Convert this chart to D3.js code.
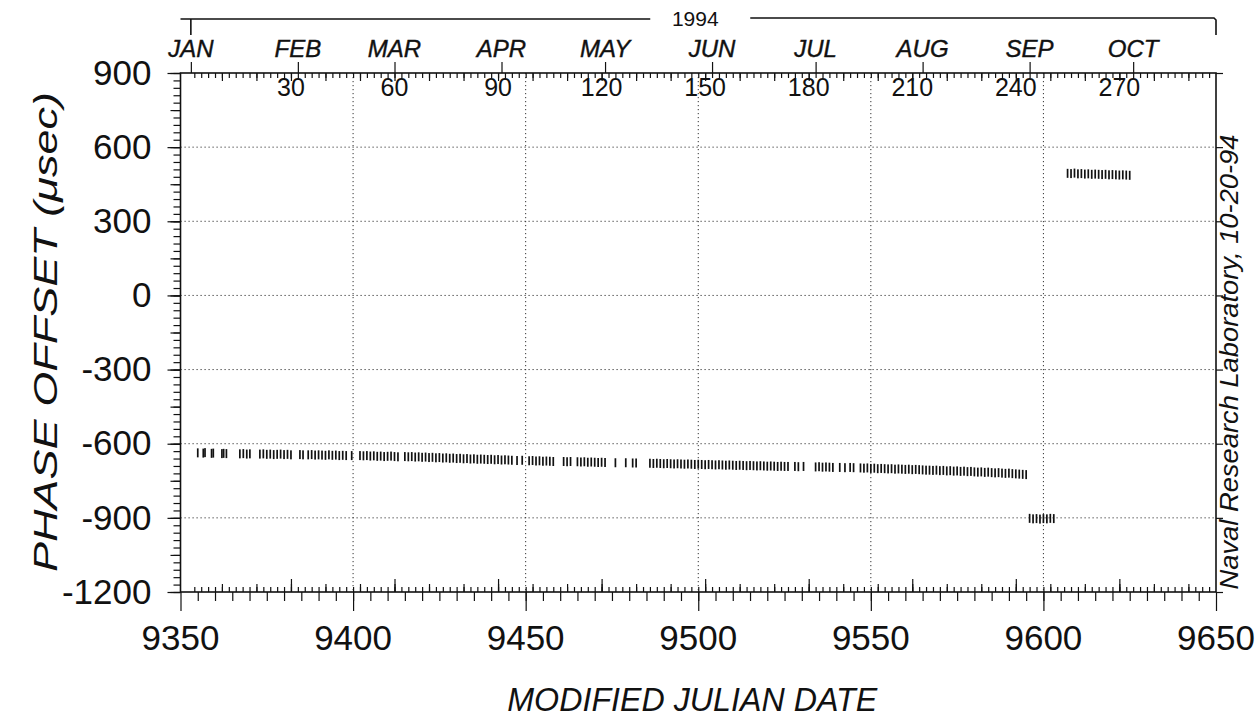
<!DOCTYPE html>
<html>
<head>
<meta charset="utf-8">
<script src="https://cdn.jsdelivr.net/npm/d3@7/dist/d3.min.js"></script>
<style>
  body { margin: 0; background: #fff; }
  svg { display: block; }
  text { font-family: "Liberation Sans", Arial, sans-serif; fill: #111; }
</style>
</head>
<body>
<svg id="chart" width="1260" height="719"></svg>
<script>
// ---- data ----
// main track, MJD and phase offset (usec)
const mainDays = [
  9355, 9356.6, 9357.1, 9359, 9359.5, 9362, 9362.5, 9363.3,
  9367.2, 9368.2, 9369.2, 9370.1,
  9373, 9374, 9375, 9376, 9377, 9378, 9379, 9380, 9381, 9382,
  9384.6, 9385.5,
  9387, 9388, 9389, 9390, 9391, 9392, 9393, 9394, 9395, 9396, 9397, 9398,
  9399.6,
  9402, 9403, 9404, 9405, 9406, 9407, 9408, 9409, 9410, 9411, 9412, 9413,
  9415, 9416, 9417, 9418, 9419, 9420, 9421, 9422, 9423, 9424, 9425, 9426, 9427, 9428, 9429, 9430,
  9431, 9432, 9433, 9434, 9435, 9436, 9437, 9438, 9439, 9440, 9441, 9442, 9443, 9444, 9445,
  9446, 9447.5, 9449,
  9451, 9452, 9453, 9454, 9455, 9456, 9457, 9458,
  9461, 9462, 9463,
  9465, 9466, 9467, 9468, 9469, 9470, 9471, 9472, 9473,
  9476, 9479, 9481, 9482,
  9486, 9487, 9488, 9489, 9490, 9491, 9492, 9493, 9494, 9495, 9496, 9497, 9498, 9499, 9500, 9501,
  9502, 9503, 9504, 9505, 9506, 9507, 9508, 9509, 9510, 9511, 9512, 9513, 9514, 9515, 9516, 9517,
  9518, 9519, 9520, 9521, 9522, 9523, 9524, 9525, 9526,
  9528, 9529, 9530.5,
  9534, 9535, 9536, 9537, 9538, 9539,
  9541, 9542.5, 9544, 9545,
  9547, 9548, 9549, 9550, 9551, 9552, 9553, 9554, 9555, 9556, 9557, 9558, 9559, 9560, 9561, 9562,
  9563, 9564, 9565, 9566,
  9567, 9568, 9569, 9570, 9571, 9572, 9573, 9574, 9575, 9576, 9577, 9578, 9579, 9580, 9581, 9582,
  9583, 9584, 9585, 9586, 9587, 9588, 9589, 9590, 9591, 9592, 9593, 9594, 9595
];
const mainOffsets = [
  -637, -638, -636, -639, -638, -640, -639, -640,
  -641, -640, -642, -641,
  -642, -641, -643, -642, -644, -643, -642, -644, -643, -645,
  -644, -645,
  -645, -644, -646, -645, -646, -647, -645, -647, -646, -648, -647, -648,
  -648,
  -648, -649, -648, -650, -649, -651, -650, -652, -651, -650, -652, -653,
  -652, -653, -652, -654, -653, -655, -654, -656, -655, -657, -656, -658, -657, -659, -658, -660,
  -659, -661, -660, -662, -661, -663, -662, -663, -664, -663, -665, -664, -666, -665, -666,
  -667, -668, -667,
  -669, -668, -670, -669, -671, -670, -671, -672,
  -672, -673, -672,
  -673, -674, -673, -675, -674, -675, -676, -675, -676,
  -677, -677, -678, -678,
  -679, -680, -679, -680, -681, -680, -681, -682, -681, -682, -683, -682, -683, -684, -683, -684,
  -685, -684, -685, -686, -685, -686, -687, -686, -687, -688, -687, -688, -689, -688, -689, -690,
  -689, -690, -691, -690, -691, -692, -691, -692, -692,
  -692, -693, -692,
  -694, -693, -695, -694, -695, -696,
  -696, -697, -696, -697,
  -698, -699, -698, -700, -699, -701, -700, -701, -702, -701, -703, -702, -703, -704, -703, -705,
  -704, -705, -706, -707,
  -707, -708, -707, -709, -708, -710, -709, -711, -710, -712, -711, -713, -712, -714, -715, -714,
  -716, -715, -717, -718, -717, -719, -720, -719, -721, -722, -723, -724, -725
];
// short excursion near -900
const dropDays = [9596, 9597, 9598, 9599, 9600, 9601, 9602, 9603];
const dropOffsets = [-902, -904, -903, -905, -903, -904, -902, -903];
// after the step
const jumpDays = [9607, 9608, 9609, 9610, 9611, 9612, 9613, 9614, 9615, 9616, 9617, 9618, 9619, 9620,
  9621, 9622, 9623, 9624, 9625];
const jumpOffsets = [494, 493, 495, 492, 493, 491, 492, 490, 491, 490, 489, 490, 488, 489, 488, 487,
  488, 487, 486];

// axis labels
const mjdTicks = [9350, 9400, 9450, 9500, 9550, 9600, 9650];
const offsetTicks = [900, 600, 300, 0, -300, -600, -900, -1200];
const dayOfYearTicks = [30, 60, 90, 120, 150, 180, 210, 240, 270];
const monthNames = ['JAN', 'FEB', 'MAR', 'APR', 'MAY', 'JUN', 'JUL', 'AUG', 'SEP', 'OCT'];
const monthFirstDay = [1, 32, 60, 91, 121, 152, 182, 213, 244, 274];
const yearLabel = '1994';
const mjdOfDayZero = 9352; // day-of-year 1 of 1994 = MJD 49353

// ---- layout ----
const plotL = 180.5, plotR = 1216, plotT = 73, plotB = 592;

const svg = d3.select('#chart');

const x = d3.scaleLinear().domain([9350, 9650]).range([plotL, plotR]);
const y = d3.scaleLinear().domain([-1200, 900]).range([plotB, plotT]);
const dayScale = d3.scaleLinear().domain([9350 - mjdOfDayZero, 9650 - mjdOfDayZero]).range([plotL, plotR]);

// grid (dotted)
const grid = svg.append('g').attr('stroke', '#333').attr('stroke-width', 1)
  .attr('stroke-dasharray', '1.2,2.8');
grid.selectAll('line.v')
  .data(mjdTicks.slice(1, -1))
  .enter().append('line')
  .attr('x1', d => x(d)).attr('x2', d => x(d))
  .attr('y1', plotT).attr('y2', plotB);
grid.selectAll('line.h')
  .data(offsetTicks.slice(1, -1))
  .enter().append('line')
  .attr('x1', plotL).attr('x2', plotR)
  .attr('y1', d => y(d)).attr('y2', d => y(d));

// helper to draw a tick-only axis
function ticksOnly(axis, tx, ty) {
  const g = svg.append('g').attr('transform', `translate(${tx},${ty})`).call(axis.tickFormat(''));
  g.select('.domain').remove();
  g.selectAll('line').attr('stroke', '#111').attr('stroke-width', 1.2);
  return g;
}

// bottom: MJD ticks hanging down
ticksOnly(d3.axisBottom(x).tickValues(d3.range(9355, 9650, 5)).tickSize(9), 0, plotB);
ticksOnly(d3.axisBottom(x).tickValues(mjdTicks).tickSize(19), 0, plotB);
// bottom: day-of-year ticks pointing up
ticksOnly(d3.axisTop(dayScale).tickValues(d3.range(2, 298, 2)).tickSize(5), 0, plotB);
ticksOnly(d3.axisTop(dayScale).tickValues(d3.range(10, 298, 10)).tickSize(8), 0, plotB);
ticksOnly(d3.axisTop(dayScale).tickValues(dayOfYearTicks).tickSize(13), 0, plotB);

// top: day-of-year ticks pointing down, month ticks pointing up
ticksOnly(d3.axisBottom(dayScale).tickValues(d3.range(2, 298, 2)).tickSize(5), 0, plotT);
ticksOnly(d3.axisBottom(dayScale).tickValues(d3.range(10, 298, 10)).tickSize(8), 0, plotT);
ticksOnly(d3.axisTop(dayScale).tickValues(monthFirstDay).tickSize(11), 0, plotT);

// left: offset ticks outward
ticksOnly(d3.axisLeft(y).tickValues(d3.range(-1200, 901, 30)).tickSize(7), plotL, 0);
ticksOnly(d3.axisLeft(y).tickValues(d3.range(-1200, 901, 150)).tickSize(10), plotL, 0);
const yAxis = svg.append('g').attr('transform', `translate(${plotL},0)`)
  .call(d3.axisLeft(y).tickValues(offsetTicks).tickSize(13).tickPadding(16)
    .tickFormat(d => String(d)));
yAxis.select('.domain').remove();
yAxis.selectAll('line').attr('stroke', '#111').attr('stroke-width', 1.2);
yAxis.selectAll('text').attr('font-size', 35).attr('fill', '#111')
  .style('font-family', '"Liberation Sans", Arial, sans-serif');
// right: major ticks outward
ticksOnly(d3.axisRight(y).tickValues(offsetTicks).tickSize(7), plotR, 0);

// frame
svg.append('rect')
  .attr('x', plotL).attr('y', plotT)
  .attr('width', plotR - plotL).attr('height', plotB - plotT)
  .attr('fill', 'none').attr('stroke', '#111').attr('stroke-width', 1.6);

// bottom tick labels
svg.append('g').selectAll('text')
  .data(mjdTicks)
  .enter().append('text')
  .attr('x', d => x(d)).attr('y', 650)
  .attr('text-anchor', 'middle').attr('font-size', 35)
  .text(d => d);

// top day-of-year labels
svg.append('g').selectAll('text')
  .data(dayOfYearTicks)
  .enter().append('text')
  .attr('x', d => dayScale(d)).attr('y', 96)
  .attr('text-anchor', 'middle').attr('font-size', 25)
  .text(d => d);

// month labels
svg.append('g').selectAll('text')
  .data(monthNames)
  .enter().append('text')
  .attr('x', (d, i) => dayScale(monthFirstDay[i])).attr('y', 57)
  .attr('text-anchor', 'middle').attr('font-size', 24).attr('font-style', 'italic')
  .attr('stroke', '#111').attr('stroke-width', 0.4)
  .text(d => d);

// year bracket
const mid = (plotL + plotR) / 2;
svg.append('text')
  .attr('x', mid - 3).attr('y', 26)
  .attr('text-anchor', 'middle').attr('font-size', 21)
  .text(yearLabel);
const bracket = svg.append('g').attr('stroke', '#111').attr('fill', 'none').attr('stroke-width', 1.6);
bracket.append('path')
  .attr('d', `M${plotL},19 H${mid - 48} M${dayScale(monthFirstDay[0])},19 V35`);
bracket.append('path')
  .attr('d', `M${mid + 52},18 H${plotR - 2} L${plotR},20 V35`);

// data marks: short vertical dashes
const markW = 1.7, markH = 9;
function drawMarks(days, offsets) {
  svg.append('g').selectAll('rect')
    .data(days.map((d, i) => ({ d, v: offsets[i] })))
    .enter().append('rect')
    .attr('x', p => x(p.d) - markW / 2)
    .attr('y', p => y(p.v) - markH / 2)
    .attr('width', markW).attr('height', markH)
    .attr('fill', '#111');
}
drawMarks(mainDays, mainOffsets);
drawMarks(dropDays, dropOffsets);
drawMarks(jumpDays, jumpOffsets);

// axis titles
svg.append('text')
  .attr('x', mid - 6).attr('y', 711)
  .attr('text-anchor', 'middle').attr('font-size', 34).attr('font-style', 'italic')
  .attr('textLength', 370).attr('lengthAdjust', 'spacingAndGlyphs')
  .text('MODIFIED JULIAN DATE');

svg.append('text')
  .attr('transform', 'translate(57,332) rotate(-90)')
  .attr('text-anchor', 'middle').attr('font-size', 34).attr('font-style', 'italic')
  .attr('textLength', 480).attr('lengthAdjust', 'spacingAndGlyphs')
  .text('PHASE OFFSET (\u03bcsec)');

svg.append('text')
  .attr('transform', `translate(${plotR + 22},362) rotate(-90)`)
  .attr('text-anchor', 'middle').attr('font-size', 26).attr('font-style', 'italic')
  .attr('textLength', 455).attr('lengthAdjust', 'spacingAndGlyphs')
  .text('Naval Research Laboratory, 10-20-94');
</script>
</body>
</html>
